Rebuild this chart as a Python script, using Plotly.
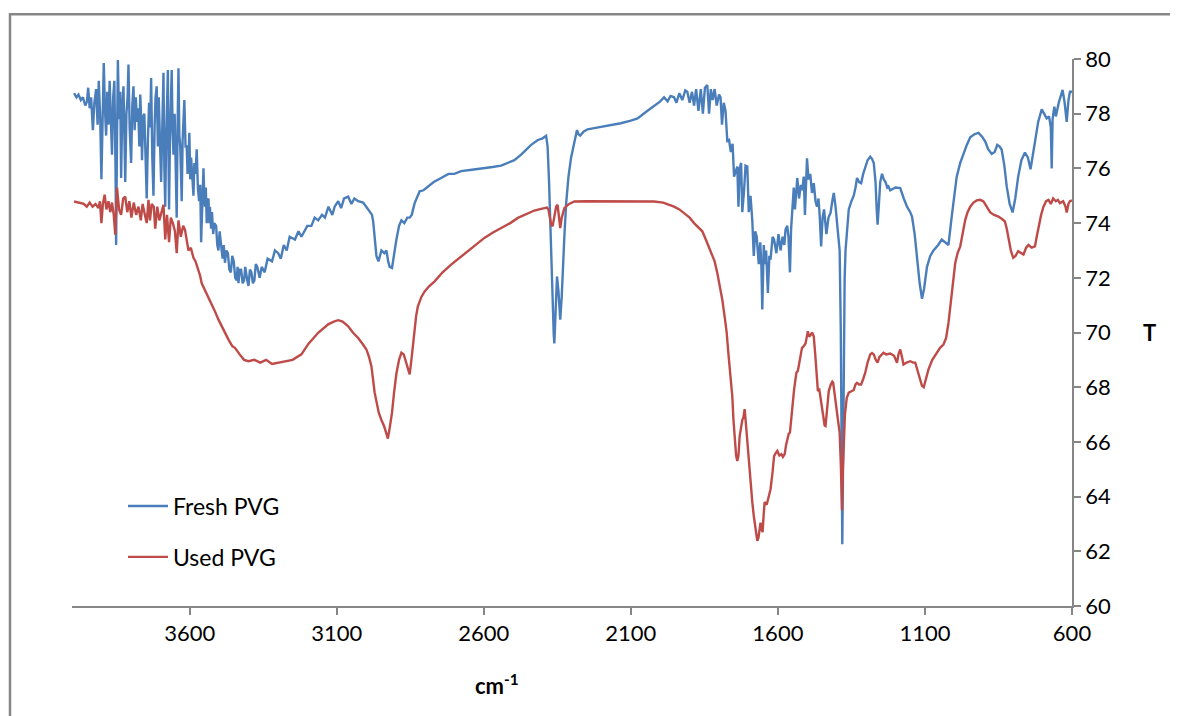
import plotly.graph_objects as go

# ---------------- data ----------------
fresh_wn = [3993,3985,3978,3970,3963,3955,3949,3945,3940,3935,3929,3924,3918,3913,3909,3904,3900,3896,3892,3888,
            3884,3880,3876,3872,3868,3864,3860,3856,3852,3850,3847,3844,3840,3836,3833,3829,3825,3822,3819,3815,
            3811,3808,3804,3799,3795,3791,3787,3783,3779,3775,3771,3768,3764,3762,3758,3754,3750,3746,3742,3738,
            3734,3731,3727,3723,3719,3716,3712,3708,3705,3701,3697,3693,3689,3686,3683,3680,3677,3674,3672,3670,
            3667,3664,3661,3658,3655,3651,3648,3644,3641,3638,3635,3632,3629,3627,3624,3621,3618,3614,3610,3607,
            3604,3601,3598,3595,3591,3587,3584,3580,3576,3572,3568,3564,3561,3557,3553,3550,3548,3545,3542,3539,
            3536,3533,3531,3527,3524,3520,3516,3510,3506,3502,3498,3495,3491,3488,3484,3480,3475,3470,3465,3460,
            3455,3450,3445,3440,3437,3434,3430,3425,3420,3415,3411,3408,3404,3400,3395,3390,3385,3380,3375,3370,
            3362,3355,3345,3335,3320,3310,3299,3290,
            3280,3270,3260,3242,3230,3220,3200,3186,3175,3163,3150,3140,3128,3115,3107,3095,3085,3075,3061,3050,
            3040,3027,3010,2993,2980,2976,2970,2965,2958,2948,2938,2931,2925,2920,2912,2905,2897,2888,2880,2870,
            2860,2852,2845,2835,2825,2818,2805,2790,2770,2745,2720,2700,2677,2640,2598,2570,2541,2510,2496,2473,
            2455,2439,2416,2400,2388,2383,2378,2374,2368,2362,2360,2356,2351,2346,2340,2335,2332,2326,2320,2312,
            2303,2292,2283,2278,2272,2260,2247,2220,2190,2160,2134,2100,2077,2050,2021,2000,1987,1975,1965,1953,
            1945,1935,1925,1915,1908,1900,1892,1885,1878,1870,1862,1855,1848,1840,1834,1828,1822,1815,1808,1800,
            1795,1790,1784,1778,1772,1766,1760,1754,1749,1742,1738,1734,1730,1725,1721,1715,1710,1704,1699,1693,
            1687,1682,1677,1672,1665,1660,1656,1653,1648,1644,1640,1634,1629,1625,1618,1613,1605,1598,1591,1584,
            1578,1574,1568,1564,1559,1555,1551,1546,1542,1538,1534,1528,1522,1517,1512,1508,1504,1501,1496,1490,
            1484,1478,1472,1467,1462,1458,1453,1448,1443,1438,1435,1428,1421,1415,1410,1404,1399,1394,1390,1386,
            1383,1381,1379,1376,1373,1370,1365,1359,1350,1342,1336,1331,1324,1317,1310,1303,1295,1286,1280,1274,
            1268,1264,1261,1257,1252,1246,1240,1234,1228,1224,1218,1200,1184,1172,1161,1150,1144,1135,1127,1118,
            1110,1103,1093,1082,1071,1055,1043,1030,1020,1009,1000,992,980,969,958,946,932,918,905,895,
            885,873,863,854,846,839,830,822,812,802,793,783,772,760,750,741,733,726,715,703,
            695,686,678,672,669,666,660,655,645,638,632,625,618,612,607,600]
fresh_t = [78.75,78.6,78.7,78.5,78.6,78.3,78.45,78.95,78.2,78.6,77.4,78.4,78.9,77.6,79.2,77.8,75.6,78.0,79.85,78.2,
           77.2,78.8,77.6,79.2,77.8,76.5,78.6,79.2,76.0,73.2,77.0,79.96,77.8,78.8,75.65,78.2,79.0,77.0,75.5,78.0,
           78.6,79.8,77.5,76.2,78.3,79.0,77.4,78.6,77.7,78.2,76.8,78.7,77.6,76.3,77.9,78.0,76.6,74.9,77.0,78.4,
           77.5,79.3,76.4,75.0,77.6,78.6,79.0,76.8,78.6,77.0,75.5,77.5,79.5,76.0,74.6,77.0,78.4,79.6,76.6,74.5,
           77.0,78.6,79.6,77.4,76.5,78.0,76.0,74.2,77.5,79.66,77.2,76.8,75.6,74.8,77.0,77.6,78.5,76.8,76.8,75.8,
           76.3,77.3,75.6,76.4,75.4,75.0,76.2,75.8,76.7,75.3,74.8,75.4,73.3,75.2,76.0,74.9,74.6,75.3,74.0,74.8,
           74.9,74.0,74.6,73.8,74.4,73.6,74.0,73.9,73.2,73.0,73.7,73.4,72.8,72.7,73.2,72.55,73.0,72.9,72.3,72.2,
           72.8,72.6,72.0,71.9,72.4,71.8,72.3,72.3,71.8,71.9,72.4,72.1,71.9,71.7,72.3,72.2,71.8,71.9,72.5,72.4,
           72.0,72.4,72.2,72.7,72.6,73.0,72.9,72.7,
           73.2,73.0,73.5,73.4,73.7,73.5,73.9,73.9,74.2,74.1,74.3,74.2,74.6,74.3,74.6,74.8,74.55,74.9,74.97,74.7,
           74.9,74.8,74.75,74.5,74.3,74.06,73.4,72.8,72.6,73.0,72.9,73.0,72.6,72.4,72.36,72.9,73.4,73.9,74.1,74.0,
           74.2,74.2,74.3,74.73,75.0,75.16,75.2,75.34,75.5,75.65,75.8,75.8,75.9,75.95,76.0,76.05,76.1,76.25,76.3,76.5,
           76.7,76.86,77.04,77.1,77.19,76.8,75.5,73.9,71.5,69.9,69.6,70.5,72.05,71.5,70.47,71.3,72.2,73.5,74.7,75.7,
           76.4,77.0,77.4,77.25,77.2,77.35,77.43,77.48,77.53,77.6,77.65,77.75,77.83,78.05,78.3,78.45,78.6,78.45,78.65,78.6,
           78.4,78.75,78.5,78.85,78.8,78.4,78.8,78.3,78.9,78.1,78.9,78.0,78.95,79.05,78.0,78.9,78.5,78.9,78.3,78.7,
           78.6,77.6,78.4,78.1,77.0,77.04,76.6,76.9,75.7,75.9,76.07,74.6,76.0,76.2,74.4,75.2,76.1,76.07,74.4,75.0,
           74.1,72.8,73.7,73.5,72.5,73.3,72.4,70.84,73.2,72.5,73.0,71.45,72.8,72.66,73.5,73.4,72.9,73.6,73.0,73.5,
           73.2,73.76,73.9,73.5,72.2,73.8,74.6,75.3,74.5,75.2,75.65,74.9,75.4,75.2,75.7,74.3,75.4,76.37,75.6,75.8,
           75.1,75.46,74.8,74.6,74.9,74.3,73.15,74.2,74.5,74.0,73.6,74.2,74.37,74.8,75.1,74.6,74.1,73.6,73.0,70.0,
           63.5,62.26,64.5,69.5,72.0,73.0,73.8,74.5,74.8,75.0,75.3,75.65,75.5,75.46,75.8,76.07,76.3,76.43,76.35,76.2,
           75.5,74.5,73.94,74.6,75.5,75.8,75.6,75.5,75.3,75.34,75.2,75.3,75.28,74.9,74.6,74.4,74.24,73.6,72.66,71.8,
           71.23,71.6,72.4,72.8,73.0,73.2,73.4,73.3,73.2,74.24,75.0,75.7,76.2,76.56,76.85,77.14,77.25,77.3,77.15,76.98,
           76.7,76.53,76.6,76.86,76.8,76.68,76.1,75.34,74.7,74.39,74.9,75.7,76.3,76.58,76.4,75.97,76.5,77.04,77.7,78.16,
           78.0,77.83,77.9,77.5,76.0,77.8,78.26,77.9,78.4,78.7,78.87,78.4,77.7,78.5,78.8,78.8]

used_wn = [3993,3975,3960,3950,3940,3930,3920,3910,3905,3900,3895,3889,3883,3876,3870,3864,3858,3853,3850,3847,
           3840,3833,3826,3819,3812,3805,3798,3790,3782,3774,3766,3760,3752,3746,3740,3735,3729,3722,3717,3710,
           3703,3695,3689,3683,3677,3670,3664,3657,3650,3644,3638,3630,3622,3616,3610,3604,3596,3587,3580,3570,
           3565,3559,3550,3536,3525,3515,3502,3490,3480,3468,3455,3446,3430,3415,3400,3380,3360,3340,3320,3300,
           3270,3250,3220,3195,3163,3129,3110,3095,3080,3061,3045,3027,3010,2999,2990,2982,2971,2957,2948,2939,
           2931,2926,2920,2912,2905,2897,2888,2880,2872,2867,2858,2852,2846,2840,2835,2830,2824,2812,2801,2785,
           2767,2740,2711,2680,2654,2625,2598,2570,2541,2510,2484,2456,2428,2405,2385,2380,2377,2371,2366,2360,
           2354,2349,2345,2340,2335,2326,2310,2292,2250,2200,2134,2080,2021,1990,1970,1953,1935,1919,1900,1885,
           1870,1857,1845,1829,1815,1806,1797,1789,1780,1774,1768,1763,1758,1755,1751,1747,1742,1738,1734,1730,
           1727,1721,1717,1713,1709,1704,1699,1693,1687,1682,1679,1674,1670,1666,1662,1659,1655,1652,1648,1645,
           1638,1632,1625,1618,1613,1607,1602,1595,1588,1583,1577,1572,1568,1563,1559,1555,1551,1545,1540,1537,
           1532,1526,1522,1518,1512,1506,1502,1498,1494,1489,1484,1478,1473,1468,1464,1459,1455,1450,1445,1441,
           1438,1434,1430,1427,1420,1415,1412,1408,1404,1399,1394,1390,1386,1382,1379,1376,1372,1366,1359,1350,
           1342,1336,1331,1324,1317,1310,1303,1295,1286,1280,1274,1267,1261,1255,1246,1241,1232,1218,1205,1195,
           1190,1184,1178,1173,1162,1150,1140,1133,1125,1116,1110,1104,1096,1088,1075,1060,1048,1037,1028,1020,
           1014,1009,1003,997,989,980,972,963,955,946,935,924,912,901,890,878,865,850,838,828,
           822,816,808,800,792,783,774,765,756,748,737,726,720,714,705,697,688,680,672,664,
           655,648,641,630,622,618,612,607,600]
used_t = [74.79,74.75,74.7,74.6,74.75,74.6,74.7,74.55,74.8,74.0,74.7,75.04,74.5,74.8,74.4,74.75,74.3,73.58,74.2,75.3,
          74.5,74.3,74.9,74.97,74.4,74.8,74.2,74.75,74.3,74.6,74.1,74.7,74.3,74.0,74.85,74.1,74.7,74.6,73.8,74.6,
          74.1,74.5,74.67,73.4,74.3,73.3,74.2,74.0,73.7,72.9,74.1,73.5,73.9,73.76,73.3,73.0,73.1,72.73,72.6,72.3,
          72.1,71.8,71.6,71.3,71.0,70.8,70.47,70.2,70.0,69.74,69.5,69.44,69.2,69.0,68.95,69.0,68.9,69.0,68.85,68.9,
          68.95,69.0,69.2,69.6,69.99,70.3,70.4,70.45,70.4,70.23,70.0,69.8,69.55,69.38,69.1,68.77,67.8,67.07,66.8,66.58,
          66.3,66.12,66.5,67.07,67.8,68.5,69.0,69.26,69.2,69.0,68.7,68.47,69.0,69.7,70.1,70.6,70.96,71.3,71.5,71.7,
          71.87,72.2,72.48,72.75,72.97,73.2,73.46,73.65,73.82,74.0,74.19,74.33,74.46,74.52,74.57,74.5,74.3,73.95,73.88,74.2,
          74.6,74.67,74.2,73.82,74.2,74.55,74.7,74.79,74.8,74.8,74.8,74.78,74.79,74.75,74.68,74.6,74.5,74.37,74.2,74.0,
          73.85,73.7,73.4,73.0,72.6,72.18,71.7,71.2,70.5,69.99,69.2,68.6,67.9,67.67,66.8,66.1,65.5,65.3,65.5,66.2,
          66.46,66.8,66.9,67.2,66.7,66.0,65.5,64.6,63.8,63.3,63.05,62.6,62.38,62.5,62.9,63.05,62.8,62.7,63.4,63.8,
          63.7,64.0,64.27,64.9,65.48,65.6,65.67,65.5,65.55,65.45,65.55,65.9,66.1,66.3,66.34,66.8,67.37,67.9,68.3,68.53,
          68.6,68.9,69.2,69.44,69.5,69.6,69.8,70.05,69.85,69.9,70.0,69.86,69.2,68.3,67.86,67.9,67.6,67.3,66.9,66.6,
          66.58,67.1,67.6,67.86,68.1,68.2,68.16,67.9,67.5,67.07,66.7,66.34,65.2,63.5,65.0,66.34,67.0,67.6,67.8,67.85,
          67.9,68.1,68.16,68.1,68.1,68.3,68.53,68.9,69.2,69.25,69.2,69.0,68.9,69.1,69.2,69.26,69.2,69.23,69.15,68.89,
          69.2,69.38,69.1,68.83,68.9,68.95,68.9,68.9,68.6,68.28,68.05,68.0,68.3,68.65,69.0,69.26,69.45,69.56,69.8,70.35,
          70.9,71.45,72.0,72.54,72.9,73.15,73.6,74.12,74.4,74.6,74.75,74.83,74.85,74.79,74.6,74.39,74.3,74.24,74.15,74.06,
          73.8,73.4,73.0,72.73,72.8,72.97,72.9,72.85,73.1,73.2,73.1,73.15,73.5,73.88,74.3,74.6,74.8,74.85,74.7,74.9,
          74.8,74.85,74.73,74.8,74.6,74.39,74.7,74.8,74.83]

assert len(fresh_wn) == len(fresh_t), (len(fresh_wn), len(fresh_t))
assert len(used_wn) == len(used_t), (len(used_wn), len(used_t))

series_names = ["Fresh PVG", "Used PVG"]
x_tick_vals = [3600, 3100, 2600, 2100, 1600, 1100, 600]
y_tick_vals = [60, 62, 64, 66, 68, 70, 72, 74, 76, 78, 80]
x_range = [4000, 600]
y_range = [60, 80]

# ---------------- figure ----------------
FONT = "Lato, 'Liberation Sans', sans-serif"
AXIS_GRAY = "#868686"

fig = go.Figure()
fig.add_trace(go.Scatter(x=fresh_wn, y=fresh_t, mode="lines", name=series_names[0],
                         legendgroup="a", line=dict(color="#4A7EBB", width=2.4)))
fig.add_trace(go.Scatter(x=used_wn, y=used_t, mode="lines", name=series_names[1],
                         legendgroup="b", line=dict(color="#BE4B48", width=2.4)))

fig.update_layout(
    width=1178, height=716,
    margin=dict(l=64, r=114, t=51, b=118),
    paper_bgcolor="white", plot_bgcolor="white",
    font=dict(family=FONT, size=22, color="#000000"),
    showlegend=True,
    legend=dict(x=0.051, y=0.222, xanchor="left", yanchor="top",
                bgcolor="rgba(0,0,0,0)", font=dict(family=FONT, size=23),
                tracegroupgap=18, itemwidth=40),
    xaxis=dict(range=x_range, tickvals=x_tick_vals, ticks="outside", ticklen=7,
               tickcolor=AXIS_GRAY, tickwidth=1.5, showline=True, linecolor=AXIS_GRAY,
               linewidth=1.5, showgrid=False, zeroline=False,
               tickfont=dict(family=FONT, size=22)),
    yaxis=dict(range=y_range, tickvals=y_tick_vals, side="right", ticks="outside",
               ticklen=7, tickcolor=AXIS_GRAY, tickwidth=1.5, showline=True,
               linecolor=AXIS_GRAY, linewidth=1.5, showgrid=False, zeroline=False,
               tickfont=dict(family=FONT, size=22)),
    annotations=[
        dict(text="<b>T</b>", xref="paper", yref="paper", x=1.086, y=0.5,
             showarrow=False, font=dict(family=FONT, size=22)),
        dict(text="<b>cm<sup>-1</sup></b>", xref="paper", yref="paper", x=0.425, y=-0.174,
             showarrow=False, font=dict(family=FONT, size=22)),
    ],
    shapes=[
        dict(type="rect", xref="paper", yref="paper", x0=-0.062, x1=1.13, y0=-0.24, y1=1.082,
             line=dict(color=AXIS_GRAY, width=2.5), fillcolor="rgba(0,0,0,0)", layer="below"),
    ],
)

fig.write_html("out.html")
